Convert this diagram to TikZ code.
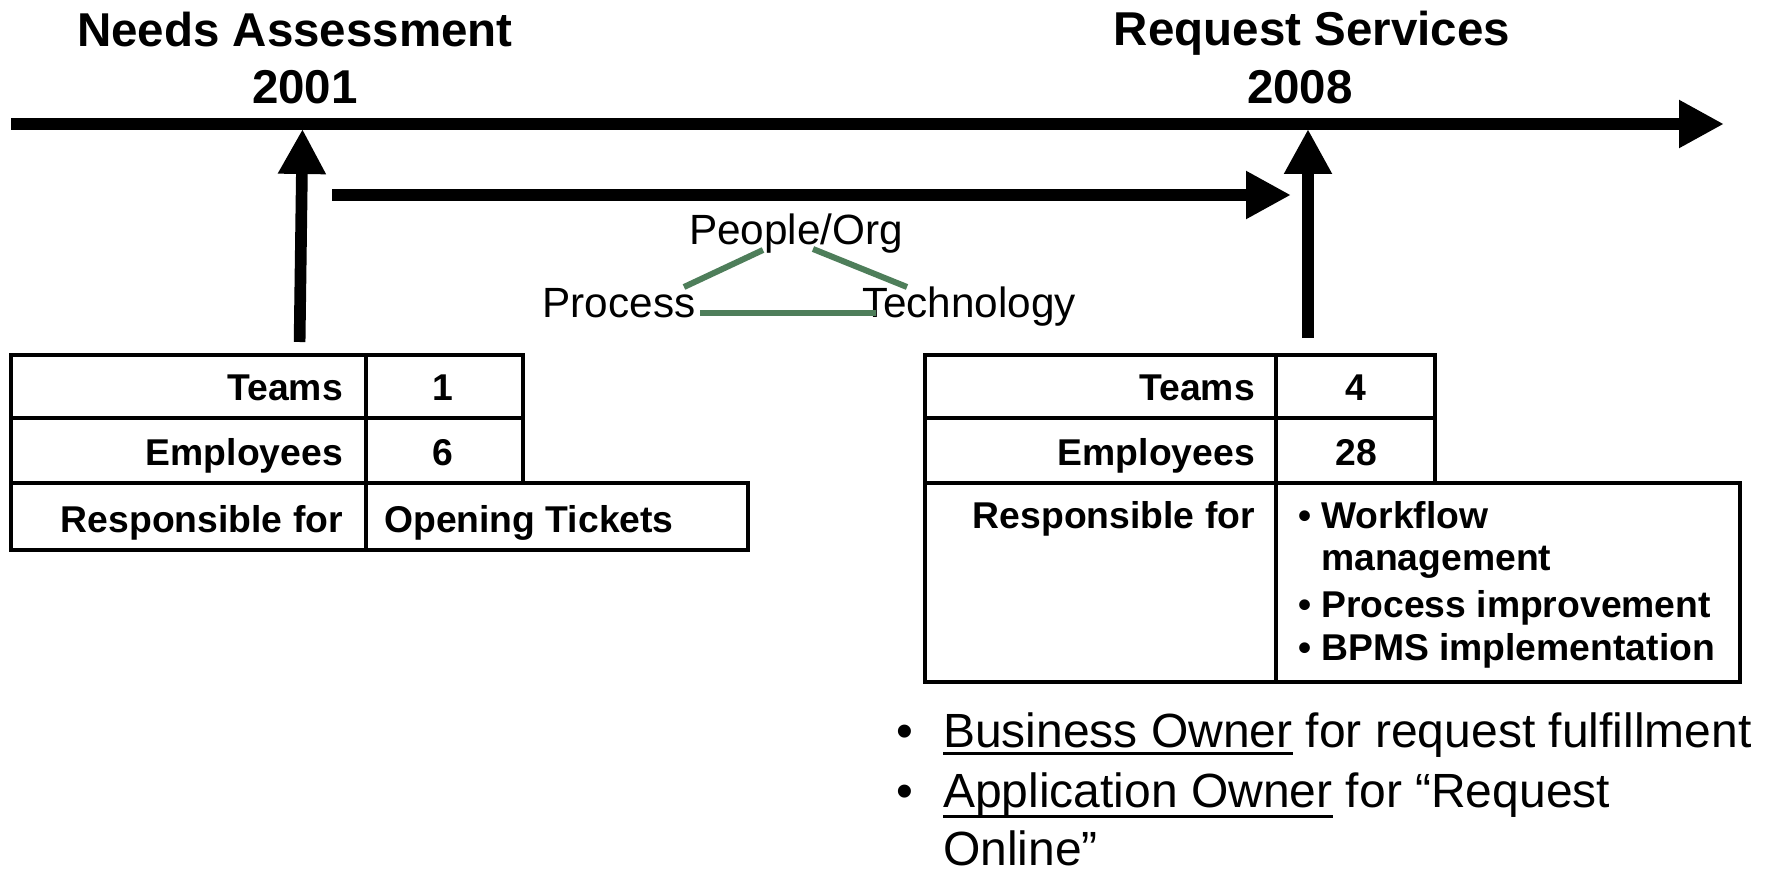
\documentclass[tikz,border=0pt]{standalone}
\usepackage{fontspec}
\setmainfont{Liberation Sans}
\usetikzlibrary{arrows.meta}
\definecolor{triGreen}{RGB}{78,126,90}
% underline drawn as a rule: #1 = depth of its lower edge, #2 = text
\newcommand\ulin[2]{\setbox0\hbox{#2}\rlap{\rule[-#1]{\wd0}{3.3pt}}\box0{}}

\begin{document}
\begin{tikzpicture}[x=1pt,y=-1pt,
  bigarrow/.style={line width=11.7pt,-{Triangle[length=45pt,width=45pt]}},
  cellbox/.style={line width=4.6pt, line join=miter},
  title/.style={inner sep=0pt, anchor=base, font=\fontsize{47.5}{57}\selectfont\bfseries},
  celltxt/.style={inner sep=0pt, font=\fontsize{37.3}{44}\selectfont\bfseries},
  tritxt/.style={inner sep=0pt, anchor=base, font=\fontsize{42.3}{50}\selectfont},
  triline/.style={line width=6pt, draw=triGreen},
  notetxt/.style={inner sep=0pt, font=\fontsize{48}{58}\selectfont}]

\useasboundingbox (0,0) rectangle (1773,869);

% titles of the two milestones
\node[title] (nat) at (295,47) {Needs Assessment};
\node[title] (nay) at (305,104) {2001};
\node[title] (rst) at (1312,46) {Request Services};
\node[title] (rsy) at (1300,104) {2008};

% main time line
\coordinate (tlStart) at (11,124);
\coordinate (tlEnd) at (1724,124);
\draw[bigarrow] (tlStart) -- (tlEnd);

% left table (2001)
\draw[cellbox] (11,355) rectangle (366,418);
\draw[cellbox] (366,355) rectangle (523,418);
\draw[cellbox] (11,418) rectangle (366,483);
\draw[cellbox] (366,418) rectangle (523,483);
\draw[cellbox] (11,483) rectangle (366,550);
\draw[cellbox] (366,483) rectangle (748,550);
\node[celltxt, anchor=base east] (lTeams) at (343,400) {Teams};
\node[celltxt, anchor=base east] (lEmp) at (343,465) {Employees};
\node[celltxt, anchor=base east] (lResp) at (343,532) {Responsible for};
\node[celltxt, anchor=base] (lTeamsV) at (443,400) {1};
\node[celltxt, anchor=base] (lEmpV) at (443,465) {6};
\node[celltxt, anchor=base west] (lRespV) at (384,532) {Opening Tickets};

% right table (2008)
\draw[cellbox] (925,355) rectangle (1276,418);
\draw[cellbox] (1276,355) rectangle (1435,418);
\draw[cellbox] (925,418) rectangle (1276,483);
\draw[cellbox] (1276,418) rectangle (1435,483);
\draw[cellbox] (925,483) rectangle (1276,682);
\draw[cellbox] (1276,483) rectangle (1740,682);
\node[celltxt, anchor=base east] (rTeams) at (1255,400) {Teams};
\node[celltxt, anchor=base east] (rEmp) at (1255,465) {Employees};
\node[celltxt, anchor=base east] (rResp) at (1255,528) {Responsible for};
\node[celltxt, anchor=base] (rTeamsV) at (1356,400) {4};
\node[celltxt, anchor=base] (rEmpV) at (1356,465) {28};
\node[celltxt, anchor=base] (rb1) at (1305,528) {•};
\node[celltxt, anchor=base west] (rw1) at (1321,528) {Workflow};
\node[celltxt, anchor=base west] (rw2) at (1321,570) {management};
\node[celltxt, anchor=base] (rb2) at (1305,617) {•};
\node[celltxt, anchor=base west] (rw3) at (1321,617) {Process improvement};
\node[celltxt, anchor=base] (rb3) at (1305,660) {•};
\node[celltxt, anchor=base west] (rw4) at (1321,660) {BPMS implementation};

% arrows from the tables up to the time line, and the span between them
\coordinate (lFoot) at (299.6,342);
\coordinate (lTip) at (302.5,129);
\coordinate (rFoot) at (1308,338);
\coordinate (rTip) at (1308,129);
\coordinate (spanStart) at (332,195);
\coordinate (spanEnd) at (1291,195);
\draw[bigarrow] (lFoot) -- (lTip);
\draw[bigarrow] (rFoot) -- (rTip);
\draw[bigarrow] (spanStart) -- (spanEnd);

% people / process / technology triangle
\node[tritxt] (people) at (796,245) {People/Org};
\node[tritxt] (process) at (619,317) {Process};
\node[tritxt] (tech) at (969,317) {Technology};
\coordinate (pA) at (684,287);
\coordinate (pB) at (763,250);
\coordinate (tA) at (813,249);
\coordinate (tB) at (907,287);
\coordinate (bA) at (700,313);
\coordinate (bB) at (876,313);
\draw[triline] (pA) -- (pB);
\draw[triline] (tA) -- (tB);
\draw[triline] (bA) -- (bB);

% notes below the right table
\node[notetxt, anchor=base] (nb1) at (905,747) {•};
\node[notetxt, anchor=base west] (n1) at (943,747) {\ulin{8.4pt}{Business Owner} for request fulfillment};
\node[notetxt, anchor=base] (nb2) at (905,807) {•};
\node[notetxt, anchor=base west] (n2) at (943,807) {\ulin{11.4pt}{Application Owner} for “Request};
\node[notetxt, anchor=base west] (n3) at (943,865) {Online”};

\end{tikzpicture}
\end{document}
